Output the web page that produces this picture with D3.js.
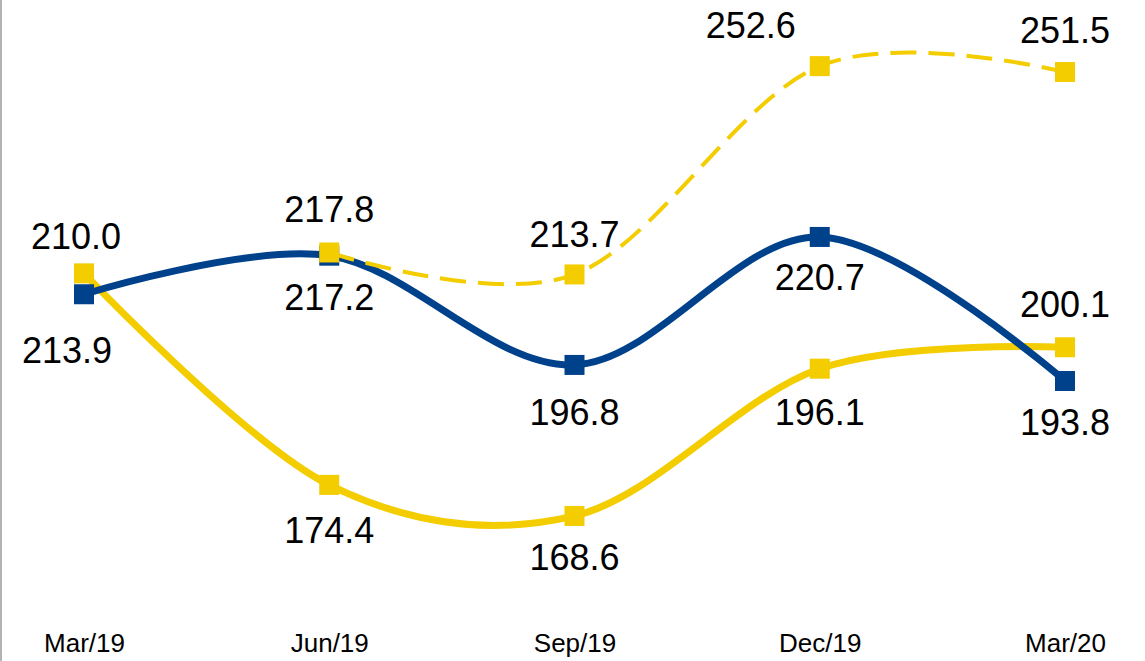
<!DOCTYPE html>
<html>
<head>
<meta charset="utf-8">
<script src="https://cdn.jsdelivr.net/npm/d3@7"></script>
<style>
  body { margin: 0; background: #fff; }
  text { font-family: "Liberation Sans", Arial, sans-serif; fill: #000; }
  .axis path, .axis line { display: none; }
</style>
</head>
<body>
<div id="chart"></div>
<script>
// data
var months = ["Mar/19", "Jun/19", "Sep/19", "Dec/19", "Mar/20"];
var yellowVals = [213.9, 174.4, 168.6, 196.1, 200.1];
var blueVals = [210.0, 217.2, 196.8, 220.7, 193.8];
var dashedVals = [null, 217.8, 213.7, 252.6, 251.5];
// label text as printed on the chart
var yellowLabels = ["213.9", "174.4", "168.6", "196.1", "200.1"];
var blueLabels = ["210.0", "217.2", "196.8", "220.7", "193.8"];
var dashedLabels = [null, "217.8", "213.7", "252.6", "251.5"];

// label layout (pixel nudges from the marker)
var yellowDy = [90, 58, 54, 56, -30], yellowDx = [-17, 0, 0, 0, 0];
var blueDy = [-45, 54, 60, 53, 54], blueDx = [-8, 0, 0, 0, 0];
var dashedDy = [0, -30, -27, -28, -29], dashedDx = [0, 0, 0, -69, 0];

var width = 1145, height = 661;
var YELLOW = "#F3CD00", BLUE = "#00418B";

var svg = d3.select("#chart").append("svg")
  .attr("width", width)
  .attr("height", height);

var xScale = d3.scalePoint()
  .domain(months)
  .range([84, 1065]);

var yScale = d3.scaleLinear()
  .domain([160, 260])
  .range([562, 26.5]);

// left border line
svg.append("line")
  .attr("x1", 1).attr("x2", 1)
  .attr("y1", 0).attr("y2", height)
  .attr("stroke", "#b3b3b3")
  .attr("stroke-width", 2);

// x axis labels
svg.append("g")
  .attr("class", "axis")
  .attr("transform", "translate(0,652)")
  .call(d3.axisBottom(xScale).tickSize(0).tickPadding(0))
  .selectAll("text")
  .attr("dy", 0)
  .style("font-size", "26px")
  .style("font-family", "'Liberation Sans', Arial, sans-serif");

var line = d3.line()
  .defined(function(d) { return d.v != null; })
  .x(function(d) { return xScale(d.m); })
  .y(function(d) { return yScale(d.v); })
  .curve(d3.curveCardinal.tension(0));

function drawSeries(vals, labels, dx, dy, color, w, dash) {
  var pts = months.map(function(m, i) {
    return { m: m, v: vals[i], t: labels[i], dx: dx[i], dy: dy[i] };
  });
  var path = svg.append("path")
    .datum(pts)
    .attr("fill", "none")
    .attr("stroke", color)
    .attr("stroke-width", w)
    .attr("d", line);
  if (dash) path.attr("stroke-dasharray", dash);

  var ok = pts.filter(function(d) { return d.v != null; });
  svg.selectAll(null)
    .data(ok)
    .enter().append("rect")
    .attr("x", function(d) { return xScale(d.m) - 10; })
    .attr("y", function(d) { return yScale(d.v) - 10; })
    .attr("width", 20)
    .attr("height", 20)
    .attr("fill", color);

  svg.selectAll(null)
    .data(ok)
    .enter().append("text")
    .attr("x", function(d) { return xScale(d.m) + d.dx; })
    .attr("y", function(d) { return yScale(d.v) + d.dy; })
    .attr("text-anchor", "middle")
    .style("font-size", "36px")
    .text(function(d) { return d.t; });
}

drawSeries(yellowVals, yellowLabels, yellowDx, yellowDy, YELLOW, 7);
drawSeries(blueVals, blueLabels, blueDx, blueDy, BLUE, 7);
drawSeries(dashedVals, dashedLabels, dashedDx, dashedDy, YELLOW, 4, "26,12");
</script>
</body>
</html>
